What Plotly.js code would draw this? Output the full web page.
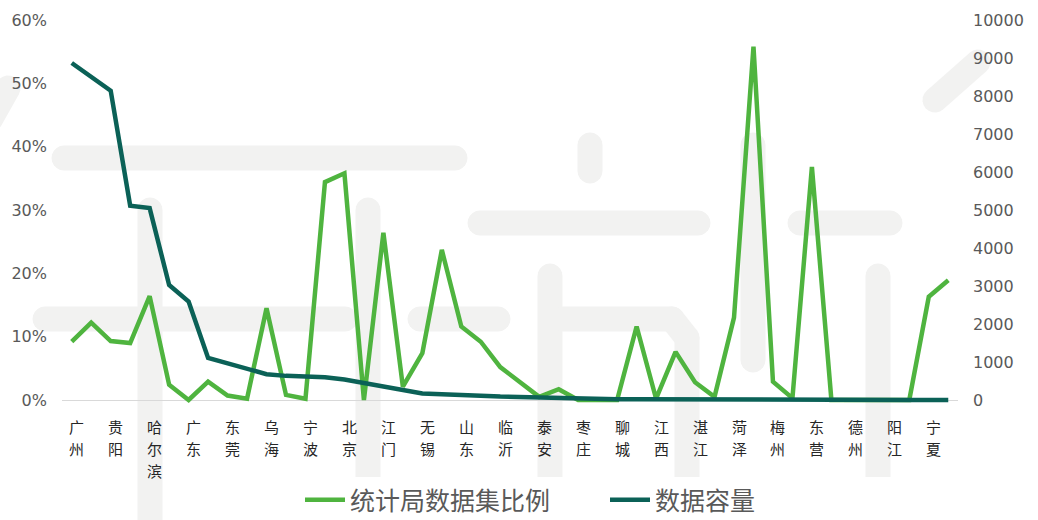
<!DOCTYPE html>
<html>
<head>
<meta charset="utf-8">
<script src="https://cdn.plot.ly/plotly-3.0.1.min.js"></script>
<style>html,body{margin:0;padding:0;background:#fff;}#chart{width:1038px;height:520px;}</style>
</head>
<body>
<div id="chart"></div>
<script>
// Labelled cities (every other category is labelled on the axis)
const cities = ['广州','贵阳','哈尔滨','广东','东莞','乌海','宁波','北京','江门','无锡','山东','临沂','泰安','枣庄','聊城','江西','湛江','菏泽','梅州','东营','德州','阳江','宁夏'];
// 统计局数据集比例 (%)
const ratio = [9.2,12.2,9.3,9.0,16.4,2.4,0,2.9,0.7,0.2,14.5,0.8,0.2,34.4,35.8,0,26.4,2.1,7.4,23.7,11.6,9.2,5.2,2.8,0.5,1.7,0,0,0,11.6,0.2,7.6,2.8,0.5,13,55.8,2.9,0.3,36.8,0,0,0,0,0,16.3,18.9];
// 数据容量
const capacity = [8868,8500,8140,5113,5050,3026,2590,1105,970,810,680,635,620,600,540,440,360,260,170,150,140,115,90,75,55,45,35,28,22,18,15,12,10,8,7,6,5,4,3,3,2,2,1,1,1,1];
const seriesNames = ['统计局数据集比例','数据容量'];

const xIdx = ratio.map((_, i) => i);

// --- layout geometry ---
const M = {l: 62, r: 80, t: 20, b: 116};
const W = 1038, H = 520;
const pw = W - M.l - M.r, ph = H - M.t - M.b;

// vertical (one character per line) category labels, placed on the x axis scale
const labelFont = {family: 'Noto Sans CJK SC, sans-serif', size: 15, color: '#262626'};
const pitch = 22;
const annotations = [];
cities.forEach((c, k) => {
  c.split('').forEach((ch, j) => {
    annotations.push({
      x: 2 * k, xref: 'x', y: 0, yref: 'y', text: ch, showarrow: false,
      xanchor: 'center', yanchor: 'middle', xshift: 5, yshift: -(26 + j * pitch),
      font: labelFont
    });
  });
});

// --- background watermark (decorative) ---
function toPaper(px, py) { return [(px - M.l) / pw, (H - M.b - py) / ph]; }
function pill(x0, y0, x1, y1, r) {
  const dx = x1 - x0, dy = y1 - y0, L = Math.hypot(dx, dy) || 1;
  const d = [dx / L, dy / L], n = [-d[1], d[0]];
  const pts = [];
  for (let k = 0; k <= 10; k++) {
    const a = -Math.PI / 2 + Math.PI * k / 10;
    pts.push([x1 + r * (Math.cos(a) * d[0] + Math.sin(a) * n[0]), y1 + r * (Math.cos(a) * d[1] + Math.sin(a) * n[1])]);
  }
  for (let k = 0; k <= 10; k++) {
    const a = Math.PI / 2 + Math.PI * k / 10;
    pts.push([x0 + r * (Math.cos(a) * d[0] + Math.sin(a) * n[0]), y0 + r * (Math.cos(a) * d[1] + Math.sin(a) * n[1])]);
  }
  return 'M' + pts.map(p => toPaper(p[0], p[1]).map(v => v.toFixed(5)).join(',')).join('L') + 'Z';
}
const wm = [
  [64,158,455,158],[150,210,150,560],[480,223,698,223],[590,145,590,171],
  [45,319,345,319],[368,210,368,560],[420,319,498,319],[550,276,550,560],
  [563,319,672,319],[672,319,687,338],[687,338,687,560],[753,145,753,360],
  [800,223,890,223],[878,276,878,560],[978,62,935,100],[-10,120,8,88]
];
const shapes = wm.map(s => ({
  type: 'path', xref: 'paper', yref: 'paper', layer: 'below',
  path: pill(s[0], s[1], s[2], s[3], 12.5),
  fillcolor: '#f2f2f1', line: {width: 0}
}));

const traces = [
  {x: xIdx, y: ratio, name: seriesNames[0], type: 'scatter', mode: 'lines',
   line: {color: '#4fb43f', width: 4.5}, yaxis: 'y', hoverinfo: 'x+y'},
  {x: xIdx, y: capacity, name: seriesNames[1], type: 'scatter', mode: 'lines',
   line: {color: '#0b6157', width: 4.5}, yaxis: 'y2', hoverinfo: 'x+y'}
];

const numFont = {family: 'DejaVu Sans, Noto Sans, sans-serif', size: 16, color: '#595959'};
const layout = {
  width: W, height: H,
  margin: M,
  paper_bgcolor: '#ffffff', plot_bgcolor: 'rgba(0,0,0,0)',
  showlegend: true,
  legend: {orientation: 'h', xref: 'container', yref: 'container', x: 300 / W, xanchor: 'left',
           y: 20 / H, yanchor: 'middle', entrywidth: 250, entrywidthmode: 'pixels',
           font: {family: 'Noto Sans CJK SC, sans-serif', size: 25, color: '#595959'},
           itemwidth: 40, tracegroupgap: 0},
  xaxis: {range: [-0.5, 45.5], showticklabels: false,
          showgrid: false, zeroline: false, showline: false, ticks: ''},
  yaxis: {range: [-0.632, 60], tick0: 0, dtick: 10, ticksuffix: '%', showgrid: false,
          zeroline: true, zerolinecolor: '#d9d9d9', zerolinewidth: 1, showline: false,
          ticks: '', ticklabelstandoff: 14, tickfont: numFont},
  yaxis2: {range: [-105.3, 10000], tick0: 0, dtick: 1000, tickformat: 'd', overlaying: 'y', side: 'right',
           showgrid: false, zeroline: false, showline: false, ticks: '',
           ticklabelstandoff: 14, tickfont: numFont},
  annotations: annotations,
  shapes: shapes
};

Plotly.newPlot('chart', traces, layout, {displayModeBar: false, staticPlot: true});
</script>
</body>
</html>
